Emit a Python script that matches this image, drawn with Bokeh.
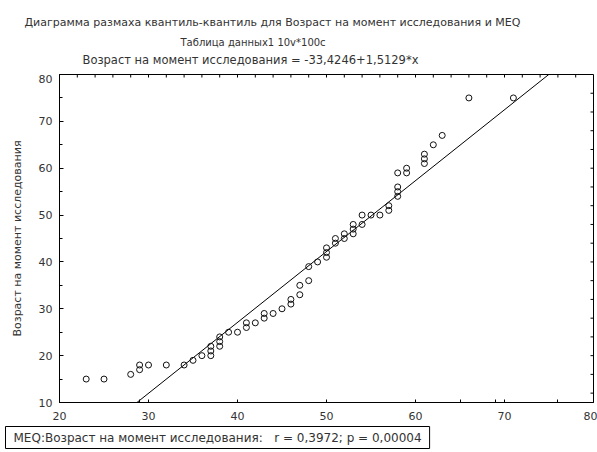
import math
from bokeh.plotting import figure
from bokeh.layouts import column
from bokeh.models import Range1d, FixedTicker, Title
from bokeh.embed import file_html
from bokeh.resources import INLINE

# ---- data ----
title_lines = [
    "Диаграмма размаха квантиль-квантиль для Возраст на момент исследования и MEQ",
    "Таблица данных1 10v*100c",
    "Возраст на момент исследования = -33,4246+1,5129*x",
]
y_label = "Возраст на момент исследования"
legend_text = "MEQ:Возраст на момент исследования:\u00a0\u00a0 r = 0,3972; p = 0,00004"

x_q = [23, 25, 28, 29, 29, 30, 32, 34, 35, 36, 37, 37, 37, 38, 38, 38, 39, 40,
       41, 41, 42, 43, 43, 44, 45, 46, 46, 47, 47, 48, 48, 49, 50, 50, 50, 51,
       51, 52, 52, 53, 53, 53, 54, 54, 55, 56, 57, 57, 58, 58, 58, 58, 59, 59,
       61, 61, 61, 62, 63, 66, 71]
y_q = [15, 15, 16, 17, 18, 18, 18, 18, 19, 20, 20, 21, 22, 22, 23, 24, 25, 25,
       26, 27, 27, 28, 29, 29, 30, 31, 32, 33, 35, 36, 39, 40, 41, 42, 43, 44,
       45, 45, 46, 46, 47, 48, 48, 50, 50, 50, 51, 52, 54, 55, 56, 59, 59, 60,
       61, 62, 63, 65, 67, 75, 75]

intercept = -33.4246
slope = 1.5129

x_ticks = [20, 30, 40, 50, 60, 70, 80]
y_ticks = [10, 20, 30, 40, 50, 60, 70, 80]
x_minor_bottom = [29, 65, 69, 76]
x_minor_top = list(range(22, 80, 2))
y_minor_left = list(range(10, 81, 5))
y_minor_right = list(range(12, 80, 4))

FONT = "DejaVu Sans"
TXT = "#333333"
W = 597
H = 452
FRAME_LEFT = 59
TOP_H = 74

# ---- title strip (titles live in its "above" panel) ----
pt = figure(width=W, height=TOP_H, output_backend="svg", toolbar_location=None,
            x_range=Range1d(0, 1), y_range=Range1d(0, 1),
            x_axis_location=None, y_axis_location=None,
            min_border_left=FRAME_LEFT, min_border_right=4,
            min_border_top=69, min_border_bottom=0)
pt.outline_line_color = None
pt.xgrid.visible = False
pt.ygrid.visible = False
title_left = [24, 180, 82]
title_size = ["11px", "10px", "11.5px"]
title_standoff = [7, 4, 3]
# added nearest-first: line 3, then line 2, then line 1
for i in [2, 1, 0]:
    pt.add_layout(Title(text=title_lines[i], align="left",
                        offset=title_left[i] - FRAME_LEFT,
                        text_font=FONT, text_font_size=title_size[i],
                        text_font_style="normal", text_color=TXT,
                        vertical_align="middle", standoff=title_standoff[i]),
                  "above")

# ---- main plot ----
p = figure(width=W, height=H - TOP_H, output_backend="svg", toolbar_location=None,
           x_range=Range1d(x_ticks[0], x_ticks[-1]),
           y_range=Range1d(y_ticks[0], y_ticks[-1]),
           min_border_left=FRAME_LEFT, min_border_right=4, min_border_top=0,
           min_border_bottom=50)
p.xgrid.visible = False
p.ygrid.visible = False
p.outline_line_color = "black"
p.outline_line_width = 1

xa = p.xaxis[0]
xa.ticker = FixedTicker(ticks=x_ticks, minor_ticks=x_minor_bottom)
xa.major_tick_in = 3
xa.major_tick_out = 0
xa.minor_tick_in = 3
xa.minor_tick_out = 0
xa.major_label_text_font = FONT
xa.major_label_text_font_size = "11px"
xa.major_label_text_color = TXT
xa.major_label_standoff = 9

ya = p.yaxis[0]
ya.ticker = FixedTicker(ticks=y_ticks, minor_ticks=y_minor_left)
ya.major_tick_in = 4
ya.major_tick_out = 0
ya.minor_tick_in = 3
ya.minor_tick_out = 0
ya.major_label_text_font = FONT
ya.major_label_text_font_size = "11px"
ya.major_label_text_color = TXT
ya.major_label_standoff = 7
ya.axis_label = y_label
ya.axis_label_text_font = FONT
ya.axis_label_text_font_size = "11px"
ya.axis_label_text_font_style = "normal"
ya.axis_label_text_color = TXT
ya.axis_label_standoff = 12

# inward tick marks along the top and right edges (half of each dash is clipped)
p.scatter(x_minor_top, [y_ticks[-1]] * len(x_minor_top), marker="dash",
          angle=math.pi / 2, size=6, line_color="black", line_width=1)
p.scatter([x_ticks[-1]] * len(y_minor_right), y_minor_right, marker="dash",
          size=6, line_color="black", line_width=1)

# legend box below the x axis
p.add_layout(Title(text=legend_text, align="left", offset=5 - FRAME_LEFT,
                   text_font=FONT, text_font_size="12px", text_font_style="normal",
                   text_color=TXT, vertical_align="bottom", standoff=4,
                   border_line_color="black", border_line_width=1,
                   background_fill_color="white", padding=(8, 4)),
             "below")

lx = [x_ticks[0], x_ticks[-1]]
ly = [intercept + slope * v for v in lx]
p.line(lx, ly, line_color="black", line_width=1)

p.scatter(x_q, y_q, marker="circle", size=6, fill_color=None,
          line_color="#111111", line_width=1)

layout = column(pt, p, spacing=0)
open("out.html", "w").write(file_html(layout, INLINE))
